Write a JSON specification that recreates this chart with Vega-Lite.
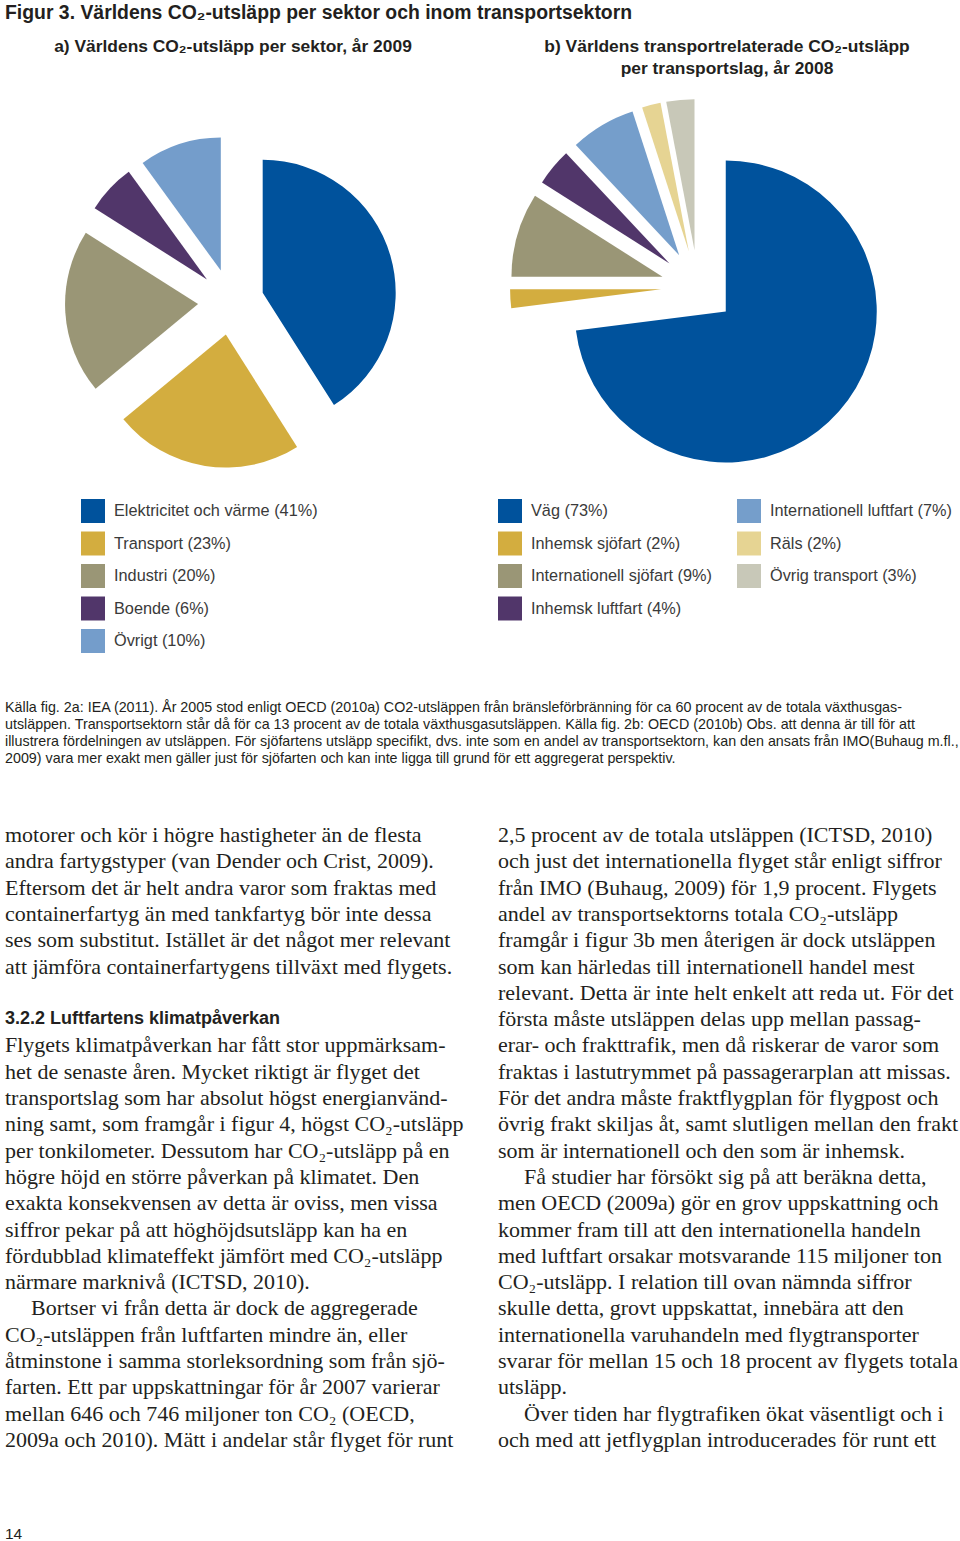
{
  "$schema": "https://vega.github.io/schema/vega-lite/v6.json",
  "background": "white",
  "padding": {"top": 3, "left": 0, "right": 0, "bottom": 0},
  "config": {"view": {"stroke": null}, "font": "Liberation Sans"},
  "title": {"text": "Figur 3. Världens CO₂-utsläpp per sektor och inom transportsektorn", "anchor": "start", "dx": 5, "fontSize": 19.4, "font": "Liberation Sans", "fontWeight": "bold", "color": "#231F20", "offset": 14.9},
  "spacing": 46.5,
  "vconcat": [
    {
      "spacing": 0,
      "bounds": "flush",
      "resolve": {"scale": {"color": "independent", "theta": "independent"}, "legend": {"color": "independent"}},
      "hconcat": [
        {
          "width": 462,
          "height": 442,
          "title": {"text": "a) Världens CO₂-utsläpp per sektor, år 2009", "fontSize": 17.4, "font": "Liberation Sans", "fontWeight": "bold", "anchor": "middle", "dx": 2, "offset": 25.3, "color": "#231F20"},
          "data": {"values": [
            {"sektor": "Elektricitet och värme (41%)", "andel": 41, "ordning": 1},
            {"sektor": "Transport (23%)", "andel": 23, "ordning": 2},
            {"sektor": "Industri (20%)", "andel": 20, "ordning": 3},
            {"sektor": "Boende (6%)", "andel": 6, "ordning": 4},
            {"sektor": "Övrigt (10%)", "andel": 10, "ordning": 5}
          ]},
          "mark": {"type": "arc", "outerRadius": 133,
            "xOffset": {"expr": "33*sin(PI*(datum.andel_start+datum.andel_end)/100)"},
            "yOffset": {"expr": "-33*cos(PI*(datum.andel_start+datum.andel_end)/100)"}},
          "encoding": {
            "theta": {"field": "andel", "type": "quantitative", "stack": true},
            "order": {"field": "ordning", "type": "quantitative"},
            "color": {"field": "sektor", "type": "nominal",
              "scale": {"domain": ["Elektricitet och värme (41%)", "Transport (23%)", "Industri (20%)", "Boende (6%)", "Övrigt (10%)"],
                        "range": ["#00529C", "#D3AD3F", "#9A9676", "#51366A", "#749DCB"]},
              "legend": {"title": null, "orient": "none", "legendX": 81, "legendY": 418, "symbolType": "square", "symbolSize": 576, "symbolStrokeWidth": 0, "symbolOpacity": 1, "labelFontSize": 16.3, "labelFont": "Liberation Sans", "labelColor": "#3A3A3A", "rowPadding": 8.5, "labelOffset": 9, "labelLimit": 400}}
          }
        },
        {
          "width": 472,
          "height": 412,
          "title": {"text": ["b) Världens transportrelaterade CO₂-utsläpp", "per transportslag, år 2008"], "lineHeight": 22, "fontSize": 17.4, "font": "Liberation Sans", "fontWeight": "bold", "anchor": "middle", "dx": 29, "offset": 3.3, "color": "#231F20"},
          "data": {"values": [
            {"transportslag": "Väg (73%)", "andel": 73, "ordning": 1},
            {"transportslag": "Inhemsk sjöfart (2%)", "andel": 2, "ordning": 2},
            {"transportslag": "Internationell sjöfart (9%)", "andel": 9, "ordning": 3},
            {"transportslag": "Inhemsk luftfart (4%)", "andel": 4, "ordning": 4},
            {"transportslag": "Internationell luftfart (7%)", "andel": 7, "ordning": 5},
            {"transportslag": "Räls (2%)", "andel": 2, "ordning": 6},
            {"transportslag": "Övrig transport (3%)", "andel": 3, "ordning": 7}
          ]},
          "mark": {"type": "arc", "outerRadius": 151,
            "xOffset": {"expr": "37*sin(PI*(datum.andel_start+datum.andel_end)/100)"},
            "yOffset": {"expr": "-37*cos(PI*(datum.andel_start+datum.andel_end)/100)"}},
          "encoding": {
            "theta": {"field": "andel", "type": "quantitative", "stack": true},
            "order": {"field": "ordning", "type": "quantitative"},
            "color": {"field": "transportslag", "type": "nominal",
              "scale": {"domain": ["Väg (73%)", "Inhemsk sjöfart (2%)", "Internationell sjöfart (9%)", "Inhemsk luftfart (4%)", "Internationell luftfart (7%)", "Räls (2%)", "Övrig transport (3%)"],
                        "range": ["#00529C", "#D3AD3F", "#9A9676", "#51366A", "#759ECB", "#E6D493", "#C8C8B8"]},
              "legend": {"title": null, "orient": "none", "legendX": 36, "legendY": 418, "columns": 2, "columnPadding": 25, "symbolType": "square", "symbolSize": 576, "symbolStrokeWidth": 0, "symbolOpacity": 1, "labelFontSize": 16.3, "labelFont": "Liberation Sans", "labelColor": "#3A3A3A", "rowPadding": 8.5, "labelOffset": 9, "labelLimit": 400}}
          }
        }
      ]
    },
    {
      "spacing": 54.35,
      "vconcat": [
        {
          "width": 960,
          "height": 68,
          "data": {"values": [
            {"rad": 0, "text": "Källa fig. 2a: IEA (2011). År 2005 stod enligt OECD (2010a) CO2-utsläppen från bränsleförbränning för ca 60 procent av de totala växthusgas-"},
            {"rad": 1, "text": "utsläppen. Transportsektorn står då för ca 13 procent av de totala växthusgasutsläppen. Källa fig. 2b: OECD (2010b) Obs. att denna är till för att"},
            {"rad": 2, "text": "illustrera fördelningen av utsläppen. För sjöfartens utsläpp specifikt, dvs. inte som en andel av transportsektorn, kan den ansats från IMO(Buhaug m.fl.,"},
            {"rad": 3, "text": "2009) vara mer exakt men gäller just för sjöfarten och kan inte ligga till grund för ett aggregerat perspektiv."}
          ]},
          "mark": {"type": "text", "align": "left", "baseline": "middle", "dx": 5, "font": "Liberation Sans", "fontSize": 14.3, "color": "#231F20"},
          "encoding": {
            "x": {"value": 0},
            "y": {"field": "rad", "type": "quantitative", "scale": {"domain": [-0.5, 3.5], "reverse": true}, "axis": null},
            "text": {"field": "text"}
          }
        },
        {
          "spacing": 70,
          "vconcat": [
            {
              "width": 960,
              "height": 631.2,
              "data": {"values": [
                {"spalt": "vänster", "rad": 0, "typ": "text", "nytt_stycke": false, "text": "motorer och kör i högre hastigheter än de flesta"},
                {"spalt": "vänster", "rad": 1, "typ": "text", "nytt_stycke": false, "text": "andra fartygstyper (van Dender och Crist, 2009)."},
                {"spalt": "vänster", "rad": 2, "typ": "text", "nytt_stycke": false, "text": "Eftersom det är helt andra varor som fraktas med"},
                {"spalt": "vänster", "rad": 3, "typ": "text", "nytt_stycke": false, "text": "containerfartyg än med tankfartyg bör inte dessa"},
                {"spalt": "vänster", "rad": 4, "typ": "text", "nytt_stycke": false, "text": "ses som substitut. Istället är det något mer relevant"},
                {"spalt": "vänster", "rad": 5, "typ": "text", "nytt_stycke": false, "text": "att jämföra containerfartygens tillväxt med flygets."},
                {"spalt": "vänster", "rad": 7, "typ": "rubrik", "nytt_stycke": false, "text": "3.2.2 Luftfartens klimatpåverkan"},
                {"spalt": "vänster", "rad": 8, "typ": "text", "nytt_stycke": false, "text": "Flygets klimatpåverkan har fått stor uppmärksam-"},
                {"spalt": "vänster", "rad": 9, "typ": "text", "nytt_stycke": false, "text": "het de senaste åren. Mycket riktigt är flyget det"},
                {"spalt": "vänster", "rad": 10, "typ": "text", "nytt_stycke": false, "text": "transportslag som har absolut högst energianvänd-"},
                {"spalt": "vänster", "rad": 11, "typ": "text", "nytt_stycke": false, "text": "ning samt, som framgår i figur 4, högst CO₂-utsläpp"},
                {"spalt": "vänster", "rad": 12, "typ": "text", "nytt_stycke": false, "text": "per tonkilometer. Dessutom har CO₂-utsläpp på en"},
                {"spalt": "vänster", "rad": 13, "typ": "text", "nytt_stycke": false, "text": "högre höjd en större påverkan på klimatet. Den"},
                {"spalt": "vänster", "rad": 14, "typ": "text", "nytt_stycke": false, "text": "exakta konsekvensen av detta är oviss, men vissa"},
                {"spalt": "vänster", "rad": 15, "typ": "text", "nytt_stycke": false, "text": "siffror pekar på att höghöjdsutsläpp kan ha en"},
                {"spalt": "vänster", "rad": 16, "typ": "text", "nytt_stycke": false, "text": "fördubblad klimateffekt jämfört med CO₂-utsläpp"},
                {"spalt": "vänster", "rad": 17, "typ": "text", "nytt_stycke": false, "text": "närmare marknivå (ICTSD, 2010)."},
                {"spalt": "vänster", "rad": 18, "typ": "text", "nytt_stycke": true, "text": "Bortser vi från detta är dock de aggregerade"},
                {"spalt": "vänster", "rad": 19, "typ": "text", "nytt_stycke": false, "text": "CO₂-utsläppen från luftfarten mindre än, eller"},
                {"spalt": "vänster", "rad": 20, "typ": "text", "nytt_stycke": false, "text": "åtminstone i samma storleksordning som från sjö-"},
                {"spalt": "vänster", "rad": 21, "typ": "text", "nytt_stycke": false, "text": "farten. Ett par uppskattningar för år 2007 varierar"},
                {"spalt": "vänster", "rad": 22, "typ": "text", "nytt_stycke": false, "text": "mellan 646 och 746 miljoner ton CO₂ (OECD,"},
                {"spalt": "vänster", "rad": 23, "typ": "text", "nytt_stycke": false, "text": "2009a och 2010). Mätt i andelar står flyget för runt"},
                {"spalt": "höger", "rad": 0, "typ": "text", "nytt_stycke": false, "text": "2,5 procent av de totala utsläppen (ICTSD, 2010)"},
                {"spalt": "höger", "rad": 1, "typ": "text", "nytt_stycke": false, "text": "och just det internationella flyget står enligt siffror"},
                {"spalt": "höger", "rad": 2, "typ": "text", "nytt_stycke": false, "text": "från IMO (Buhaug, 2009) för 1,9 procent. Flygets"},
                {"spalt": "höger", "rad": 3, "typ": "text", "nytt_stycke": false, "text": "andel av transportsektorns totala CO₂-utsläpp"},
                {"spalt": "höger", "rad": 4, "typ": "text", "nytt_stycke": false, "text": "framgår i figur 3b men återigen är dock utsläppen"},
                {"spalt": "höger", "rad": 5, "typ": "text", "nytt_stycke": false, "text": "som kan härledas till internationell handel mest"},
                {"spalt": "höger", "rad": 6, "typ": "text", "nytt_stycke": false, "text": "relevant. Detta är inte helt enkelt att reda ut. För det"},
                {"spalt": "höger", "rad": 7, "typ": "text", "nytt_stycke": false, "text": "första måste utsläppen delas upp mellan passag-"},
                {"spalt": "höger", "rad": 8, "typ": "text", "nytt_stycke": false, "text": "erar- och frakttrafik, men då riskerar de varor som"},
                {"spalt": "höger", "rad": 9, "typ": "text", "nytt_stycke": false, "text": "fraktas i lastutrymmet på passagerarplan att missas."},
                {"spalt": "höger", "rad": 10, "typ": "text", "nytt_stycke": false, "text": "För det andra måste fraktflygplan för flygpost och"},
                {"spalt": "höger", "rad": 11, "typ": "text", "nytt_stycke": false, "text": "övrig frakt skiljas åt, samt slutligen mellan den frakt"},
                {"spalt": "höger", "rad": 12, "typ": "text", "nytt_stycke": false, "text": "som är internationell och den som är inhemsk."},
                {"spalt": "höger", "rad": 13, "typ": "text", "nytt_stycke": true, "text": "Få studier har försökt sig på att beräkna detta,"},
                {"spalt": "höger", "rad": 14, "typ": "text", "nytt_stycke": false, "text": "men OECD (2009a) gör en grov uppskattning och"},
                {"spalt": "höger", "rad": 15, "typ": "text", "nytt_stycke": false, "text": "kommer fram till att den internationella handeln"},
                {"spalt": "höger", "rad": 16, "typ": "text", "nytt_stycke": false, "text": "med luftfart orsakar motsvarande 115 miljoner ton"},
                {"spalt": "höger", "rad": 17, "typ": "text", "nytt_stycke": false, "text": "CO₂-utsläpp. I relation till ovan nämnda siffror"},
                {"spalt": "höger", "rad": 18, "typ": "text", "nytt_stycke": false, "text": "skulle detta, grovt uppskattat, innebära att den"},
                {"spalt": "höger", "rad": 19, "typ": "text", "nytt_stycke": false, "text": "internationella varuhandeln med flygtransporter"},
                {"spalt": "höger", "rad": 20, "typ": "text", "nytt_stycke": false, "text": "svarar för mellan 15 och 18 procent av flygets totala"},
                {"spalt": "höger", "rad": 21, "typ": "text", "nytt_stycke": false, "text": "utsläpp."},
                {"spalt": "höger", "rad": 22, "typ": "text", "nytt_stycke": true, "text": "Över tiden har flygtrafiken ökat väsentligt och i"},
                {"spalt": "höger", "rad": 23, "typ": "text", "nytt_stycke": false, "text": "och med att jetflygplan introducerades för runt ett"}
              ]},
              "encoding": {
                "x": {"field": "spalt", "type": "nominal", "bandPosition": 0, "axis": null,
                      "scale": {"type": "band", "domain": ["vänster", "höger"], "paddingInner": 0.0527, "paddingOuter": 0}},
                "y": {"field": "rad", "type": "quantitative", "scale": {"domain": [-0.5, 23.5], "reverse": true}, "axis": null},
                "text": {"field": "text"}
              },
              "layer": [
                {
                  "transform": [{"filter": "datum.typ == 'text'"}],
                  "mark": {"type": "text", "align": "left", "baseline": "middle", "dx": {"expr": "datum.nytt_stycke ? 31 : 5"}, "font": "Liberation Serif", "fontSize": 22, "color": "#231F20"}
                },
                {
                  "transform": [{"filter": "datum.typ == 'rubrik'"}],
                  "mark": {"type": "text", "align": "left", "baseline": "middle", "dx": 5, "font": "Liberation Sans", "fontWeight": "bold", "fontSize": 18, "color": "#231F20"}
                }
              ]
            },
            {
              "width": 960,
              "height": 20,
              "data": {"values": [{"sida": "14"}]},
              "mark": {"type": "text", "align": "left", "baseline": "middle", "dx": 5, "font": "Liberation Sans", "fontSize": 15.5, "color": "#231F20"},
              "encoding": {"x": {"value": 0}, "text": {"field": "sida"}}
            }
          ]
        }
      ]
    }
  ]
}
